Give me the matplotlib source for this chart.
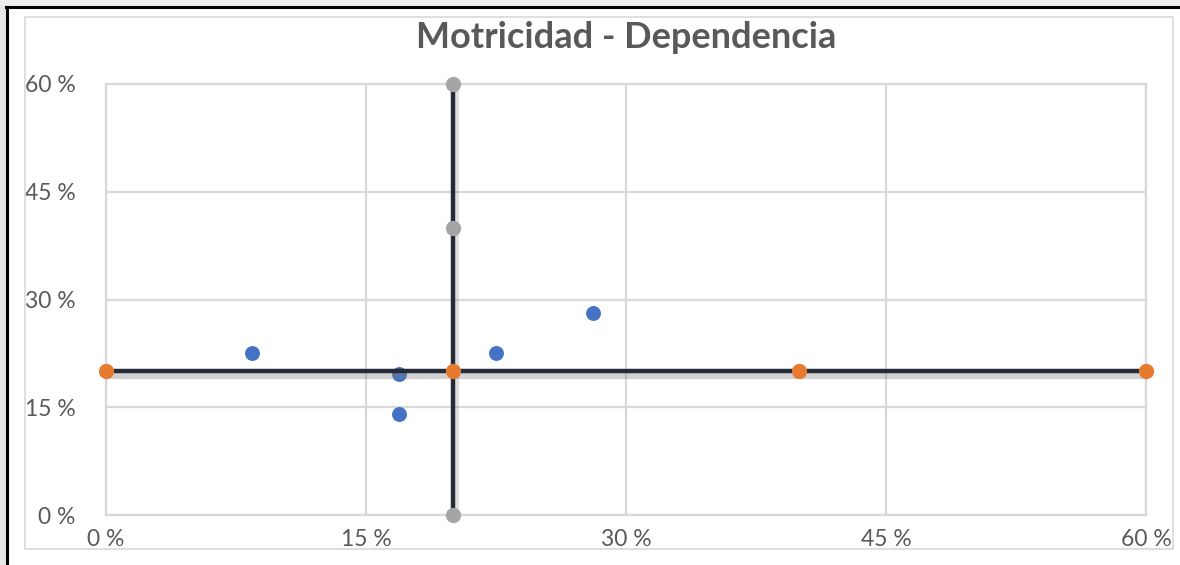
import matplotlib
matplotlib.use("Agg")
import matplotlib.pyplot as plt
import matplotlib.patheffects as pe
from matplotlib.patches import Rectangle
from matplotlib.lines import Line2D

# ---- data ----
title = "Motricidad - Dependencia"
tick_values = [0, 15, 30, 45, 60]
tick_labels = ["0 %", "15 %", "30 %", "45 %", "60 %"]

blue_x = [8.4, 16.9, 16.9, 22.5, 28.1]
blue_y = [22.5, 19.6, 14.1, 22.5, 28.1]

orange_x = [0, 20, 40, 60]
orange_y = [20, 20, 20, 20]

gray_x = [20, 20, 20]
gray_y = [60, 40, 0]

# ---- styles ----
BLUE = "#4472C4"
ORANGE = "#E67A2E"
GRAY = "#A5A5A5"
LINE = "#262C36"
TXT = "#595959"
GRID = "#D9D9D9"

plt.rcParams['font.family'] = ['Lato', 'DejaVu Sans']

W, H = 1180, 565
fig = plt.figure(figsize=(W / 100, H / 100), dpi=100)
fig.patch.set_facecolor("white")

# outer decorations: gray strip, black frame lines, light chart border
fig.add_artist(Rectangle((0, 0), 6 / W, 1, transform=fig.transFigure,
                         facecolor="#E6E6E6", edgecolor="none", zorder=0))
fig.add_artist(Rectangle((0, 1 - 6 / H), 1, 6 / H, transform=fig.transFigure,
                         facecolor="#EDEDED", edgecolor="none", zorder=0))
fig.add_artist(Line2D([7 / W, 7 / W], [0, 1 - 7 / H], transform=fig.transFigure,
                      color="black", lw=2.2))
fig.add_artist(Line2D([6 / W, 1], [1 - 7 / H, 1 - 7 / H], transform=fig.transFigure,
                      color="black", lw=2.2))
fig.add_artist(Rectangle((25 / W, 1 - 549 / H), (1173 - 25) / W, (549 - 17) / H,
                         transform=fig.transFigure, facecolor="none",
                         edgecolor=GRID, lw=1.2))

ax = fig.add_axes([106 / W, 1 - 515 / H, (1146 - 106) / W, (515 - 84) / H])
ax.set_xlim(0, 60)
ax.set_ylim(0, 60)
ax.set_xticks(tick_values)
ax.set_yticks(tick_values)
ax.set_xticklabels(tick_labels)
ax.set_yticklabels(tick_labels)
ax.tick_params(length=0, labelsize=16.5, labelcolor=TXT)
ax.tick_params(axis='y', pad=22)
ax.tick_params(axis='x', pad=10)
ax.grid(True, color=GRID, lw=1.6, zorder=0)
ax.set_axisbelow(True)
for s in ax.spines.values():
    s.set_color(GRID)
    s.set_linewidth(1.6)
    s.set_zorder(0.5)

shadow_h = [pe.SimpleLineShadow(offset=(0, -2.5), shadow_color="#808080", alpha=0.35, linewidth=6),
            pe.Normal()]
shadow_v = [pe.SimpleLineShadow(offset=(1.5, -1.5), shadow_color="#808080", alpha=0.25, linewidth=5),
            pe.Normal()]

ax.scatter(blue_x, blue_y, s=115, color=BLUE, zorder=3, clip_on=False, linewidths=0)
ax.plot(gray_x, gray_y, color=LINE, lw=3.2, zorder=4, clip_on=False,
        path_effects=shadow_v, solid_capstyle='butt')
ax.plot(gray_x, gray_y, 'o', color=GRAY, ms=11, mew=0, zorder=6, clip_on=False)
ax.plot(orange_x, orange_y, color=LINE, lw=3.2, zorder=5, clip_on=False,
        path_effects=shadow_h, solid_capstyle='butt')
ax.plot(orange_x, orange_y, 'o', color=ORANGE, ms=11, mew=0, zorder=7, clip_on=False)

fig.text(626 / W, 1 - 38 / H, title, ha="center", va="center",
         fontsize=26, fontweight="bold", color=TXT)

fig.savefig("out.png", dpi=100)
